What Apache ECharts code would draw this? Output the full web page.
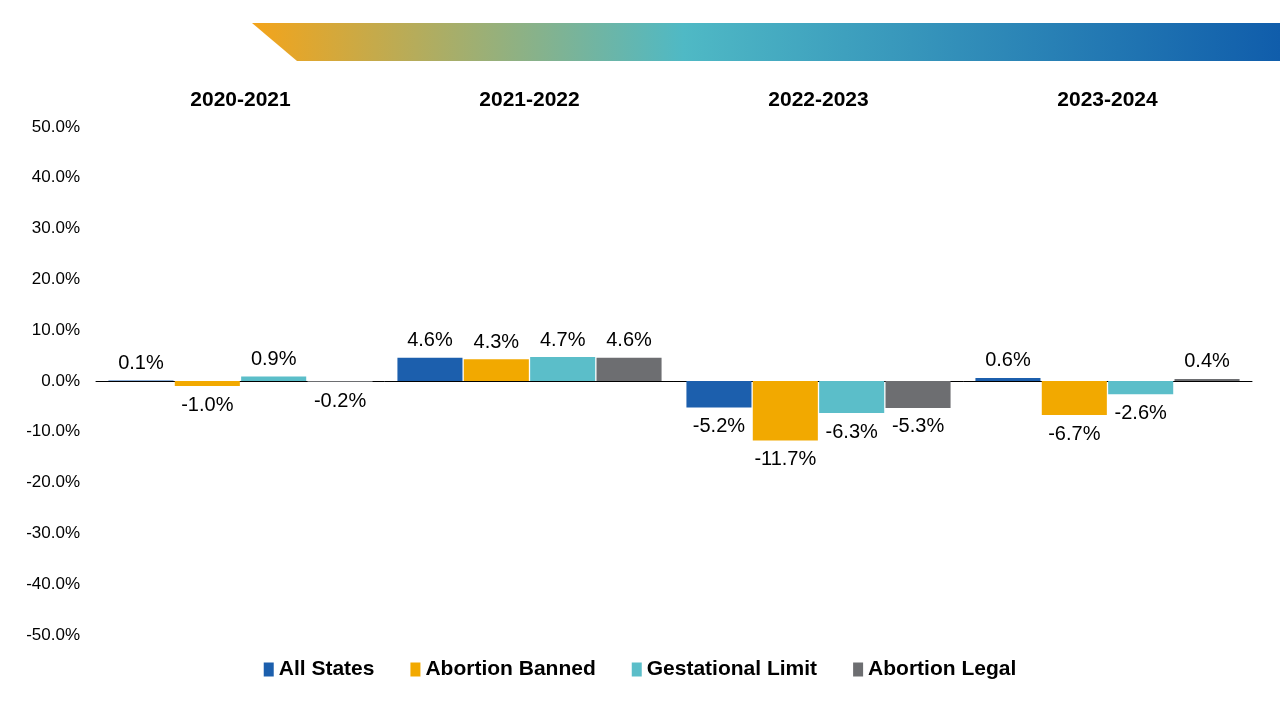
<!DOCTYPE html>
<html>
<head>
<meta charset="utf-8">
<script src="https://cdn.jsdelivr.net/npm/echarts@6/dist/echarts.min.js"></script>
<style>
  html, body { margin: 0; padding: 0; background: #fff; }
  #chart { width: 1280px; height: 720px; }
</style>
</head>
<body>
<div id="chart"></div>
<script>
var periods = ['2020-2021', '2021-2022', '2022-2023', '2023-2024'];
var seriesNames = ['All States', 'Abortion Banned', 'Gestational Limit', 'Abortion Legal'];
var allStates = [0.1, 4.6, -5.2, 0.6];
var abortionBanned = [-1.0, 4.3, -11.7, -6.7];
var gestationalLimit = [0.9, 4.7, -6.3, -2.6];
var abortionLegal = [-0.2, 4.6, -5.3, 0.4];
var colors = ['#1c5fad', '#f2a900', '#5bbec9', '#6d6e71'];

var font = 'Liberation Sans, Arial, sans-serif';

// 正值标签在上，负值标签在下
function toData(values) {
    return values.map(function (v) {
        return {
            value: v,
            label: v < 0 ? { position: 'bottom', distance: 9 } : { position: 'top', distance: 7 }
        };
    });
}

function makeSeries(name, values, color) {
    return {
        name: name,
        type: 'bar',
        xAxisIndex: 0,
        data: toData(values),
        barGap: '2%',
        barCategoryGap: '8.6%',
        itemStyle: { color: color },
        label: {
            show: true,
            color: '#000',
            fontSize: 20,
            fontFamily: font,
            formatter: function (p) { return p.value.toFixed(1) + '%'; }
        }
    };
}

var chart = echarts.init(document.getElementById('chart'));
var option = {
    animation: false,
    textStyle: { fontFamily: font },
    graphic: [{
        type: 'polygon',
        shape: { points: [[252, 23], [1280, 23], [1280, 61], [297, 61]] },
        style: {
            fill: new echarts.graphic.LinearGradient(0, 0, 1, 0, [
                { offset: 0, color: '#f4a41a' },
                { offset: 0.42, color: '#4fb9c5' },
                { offset: 1, color: '#105dab' }
            ])
        }
    }],
    legend: {
        top: 654,
        left: 'center',
        itemWidth: 10,
        itemHeight: 14,
        itemGap: 36,
        icon: 'rect',
        data: seriesNames,
        textStyle: { fontSize: 21, fontWeight: 'bold', color: '#000', fontFamily: font }
    },
    grid: { left: 96, right: 28, top: 127, bottom: 85 },
    xAxis: [{
        type: 'category',
        data: periods,
        axisLine: { onZero: true, lineStyle: { color: '#000', width: 1 } },
        axisTick: { show: false },
        axisLabel: { show: false }
    }, {
        type: 'category',
        data: periods,
        position: 'top',
        axisLine: { show: false },
        axisTick: { show: false },
        axisLabel: { margin: 16, fontSize: 21, fontWeight: 'bold', color: '#000', fontFamily: font }
    }],
    yAxis: {
        type: 'value',
        min: -50,
        max: 50,
        interval: 10,
        axisLine: { show: false },
        axisTick: { show: false },
        splitLine: { show: false },
        axisLabel: {
            margin: 16,
            fontSize: 17,
            color: '#000',
            fontFamily: font,
            formatter: function (v) { return v.toFixed(1) + '%'; }
        }
    },
    series: [
        makeSeries(seriesNames[0], allStates, colors[0]),
        makeSeries(seriesNames[1], abortionBanned, colors[1]),
        makeSeries(seriesNames[2], gestationalLimit, colors[2]),
        makeSeries(seriesNames[3], abortionLegal, colors[3])
    ]
};
chart.setOption(option);
</script>
</body>
</html>
